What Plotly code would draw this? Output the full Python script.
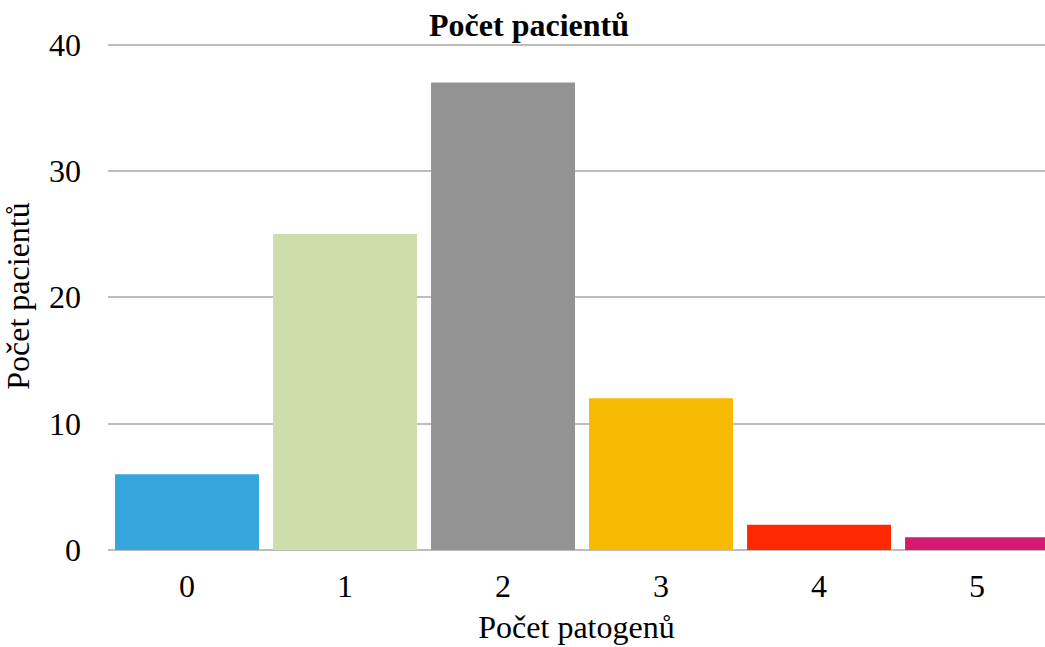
import plotly.graph_objects as go

# Number of patients by number of detected pathogens
categories = ["0", "1", "2", "3", "4", "5"]
patients = [6, 25, 37, 12, 2, 1]
bar_colors = ["#35A5DC", "#CEDDAC", "#939393", "#F6BA00", "#FF2800", "#D41B73"]
y_ticks = [0, 10, 20, 30, 40]

font_family = "Liberation Serif, Times New Roman, serif"

fig = go.Figure(
    go.Bar(
        x=list(range(len(categories))),
        y=patients,
        marker=dict(color=bar_colors, line=dict(width=0)),
        hoverinfo="x+y",
    )
)

fig.update_layout(
    width=1045,
    height=647,
    margin=dict(l=108, r=0, t=41.5, b=97),
    paper_bgcolor="white",
    plot_bgcolor="white",
    bargap=0.089,
    showlegend=False,
    font=dict(family=font_family, size=32, color="black"),
    title=dict(
        text="<b>Počet pacientů</b>",
        font=dict(family=font_family, size=32, color="black"),
        xref="container",
        x=529 / 1045,
        xanchor="center",
        yref="container",
        y=1 - 25 / 647,
        yanchor="middle",
    ),
    xaxis=dict(
        tickmode="array",
        tickvals=list(range(len(categories))),
        ticktext=categories,
        range=[-0.5, 5.43],
        showgrid=False,
        zeroline=False,
        showline=False,
        ticks="",
        ticklabelstandoff=14,
        tickfont=dict(family=font_family, size=32, color="black"),
        title=dict(text="Počet patogenů", standoff=12,
                   font=dict(family=font_family, size=32, color="black")),
        fixedrange=True,
    ),
    yaxis=dict(
        # a little headroom above 40 so the top gridline is still drawn
        range=[0, 40.2],
        tickmode="array",
        tickvals=y_ticks,
        showgrid=True,
        gridcolor="#BDBDBD",
        gridwidth=2,
        zeroline=True,
        zerolinecolor="#BDBDBD",
        zerolinewidth=2,
        showline=False,
        ticks="",
        ticklabelstandoff=26,
        tickfont=dict(family=font_family, size=32, color="black"),
        title=dict(text="Počet pacientů", standoff=10,
                   font=dict(family=font_family, size=32, color="black")),
        fixedrange=True,
    ),
)

fig.write_html("out.html", config={"displayModeBar": False})
